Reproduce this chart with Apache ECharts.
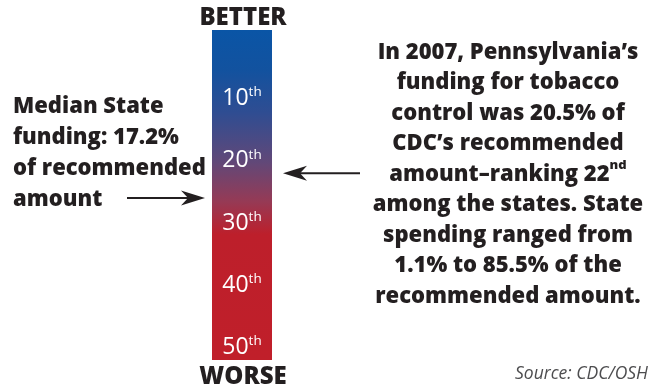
<!DOCTYPE html>
<html>
<head>
<meta charset="utf-8">
<script src="https://cdn.jsdelivr.net/npm/echarts@6/dist/echarts.min.js"></script>
<style>
html, body { margin: 0; padding: 0; background: #fff; }
#main { width: 660px; height: 389px; }
</style>
</head>
<body>
<div id="main"></div>
<script>
// ranking scale shown by the bar (1st at top, 51st at bottom)
var rankRange = [-1, 52];
var rankTicks = [10, 20, 30, 40, 50];
var endLabels = ['BETTER', 'WORSE'];

// the two ranks pointed at by arrows
var medianRank = 26;
var stateRank = 22;

// numbers quoted in the notes
var medianFunding = 17.2;
var stateFunding = 20.5;
var spendRange = [1.1, 85.5];
var year = 2007;
var sourceText = 'Source: CDC/OSH';

var FONT = '"Open Sans", sans-serif';
var INK = '#231f20';

function suffix(n) {
	var t = n % 100;
	if (t >= 11 && t <= 13) return 'th';
	return ['th', 'st', 'nd', 'rd'][n % 10] || 'th';
}

var chart = echarts.init(document.getElementById('main'));

/*
  bar: one rect from rankRange[0] to rankRange[1], filled with the blue->red gradient
*/
function renderBar(params, api) {
	var p0 = api.coord([0, api.value(0)]);
	var p1 = api.coord([1, api.value(1)]);
	return {
		type: 'rect',
		shape: { x: p0[0], y: p0[1], width: p1[0] - p0[0], height: p1[1] - p0[1] },
		style: {
			fill: new echarts.graphic.LinearGradient(0, 0, 0, 1, [
				{ offset: 0, color: '#0a55a6' },
				{ offset: 0.12, color: '#12529f' },
				{ offset: 0.25, color: '#2f4d92' },
				{ offset: 0.4, color: '#614878' },
				{ offset: 0.52, color: '#963a55' },
				{ offset: 0.62, color: '#bd1f2b' },
				{ offset: 1, color: '#c01f2a' }
			])
		}
	};
}

/*
  arrows: value(0) = rank, value(1) = side (-1 left of bar, 1 right of bar)
*/
function renderArrow(params, api) {
	var y = api.coord([0, api.value(0)])[1];
	var barL = api.coord([0, api.value(0)])[0];
	var barR = api.coord([1, api.value(0)])[0];
	var side = api.value(1);
	var tip, tail, dir;
	if (side < 0) {
		tip = barL - 7; tail = barL - 85; dir = 1;
	} else {
		tip = barR + 11; tail = barR + 88; dir = -1;
	}
	return {
		type: 'group',
		children: [{
			type: 'line',
			shape: { x1: tail, y1: y, x2: tip - dir * 16, y2: y },
			style: { stroke: INK, lineWidth: 2 }
		}, {
			type: 'polygon',
			shape: { points: [[tip, y], [tip - dir * 24, y - 7.5], [tip - dir * 17, y], [tip - dir * 24, y + 7.5]] },
			style: { fill: INK }
		}]
	};
}

var leftNote = 'Median State\nfunding: ' + medianFunding + '%\nof recommended\namount';
var rightNote = 'In ' + year + ', Pennsylvania\u2019s\nfunding for tobacco\ncontrol was ' + stateFunding +
	'% of\nCDC\u2019s recommended\namount\u2013ranking ' + stateRank + '{sup|' + suffix(stateRank) + '}\n' +
	'among the states. State\nspending ranged from\n' + spendRange[0] + '% to ' + spendRange[1] +
	'% of the\nrecommended amount.';

var option = {
	animation: false,
	grid: { left: 212, top: 30, width: 60, height: 330 },
	xAxis: { type: 'value', min: 0, max: 1, show: false },
	yAxis: {
		type: 'value',
		inverse: true,
		min: rankRange[0],
		max: rankRange[1],
		z: 10,
		splitLine: { show: false },
		axisLine: { show: false },
		axisTick: { show: false },
		axisLabel: {
			inside: true,
			margin: 30,
			align: 'center',
			customValues: rankTicks,
			formatter: function(v) {
				return '{n|' + v + '}{s|' + suffix(v) + '}';
			},
			rich: {
				n: { fontFamily: FONT, fontSize: 23, color: '#fff', lineHeight: 26 },
				s: { fontFamily: FONT, fontSize: 13.5, color: '#fff', lineHeight: 15, verticalAlign: 'top' }
			}
		}
	},
	series: [{
		type: 'custom',
		renderItem: renderBar,
		data: [[rankRange[0], rankRange[1]]],
		z: 2
	}, {
		type: 'custom',
		renderItem: renderArrow,
		data: [[medianRank, -1], [stateRank, 1]],
		z: 3
	}],
	graphic: [{
		type: 'text', x: 243, y: 18,
		style: { text: endLabels[0], font: '800 24px ' + FONT, fill: INK, align: 'center', verticalAlign: 'middle' }
	}, {
		type: 'text', x: 243, y: 377,
		style: { text: endLabels[1], font: '800 24px ' + FONT, fill: INK, align: 'center', verticalAlign: 'middle' }
	}, {
		type: 'text', x: 13, y: 91,
		style: { text: leftNote, font: '800 22px ' + FONT, lineHeight: 31, fill: INK, align: 'left', verticalAlign: 'top' }
	}, {
		type: 'text', x: 508, y: 37,
		style: {
			text: rightNote, font: '800 22px ' + FONT, lineHeight: 30.5, fill: INK, align: 'center', verticalAlign: 'top',
			rich: {
				sup: { font: '800 13px ' + FONT, fill: INK, lineHeight: 14, verticalAlign: 'top' }
			}
		}
	}, {
		type: 'text', x: 648, y: 374,
		style: { text: sourceText, font: 'italic 17.5px ' + FONT, fill: '#4d4d4f', align: 'right', verticalAlign: 'middle' }
	}]
};

chart.setOption(option);
</script>
</body>
</html>
